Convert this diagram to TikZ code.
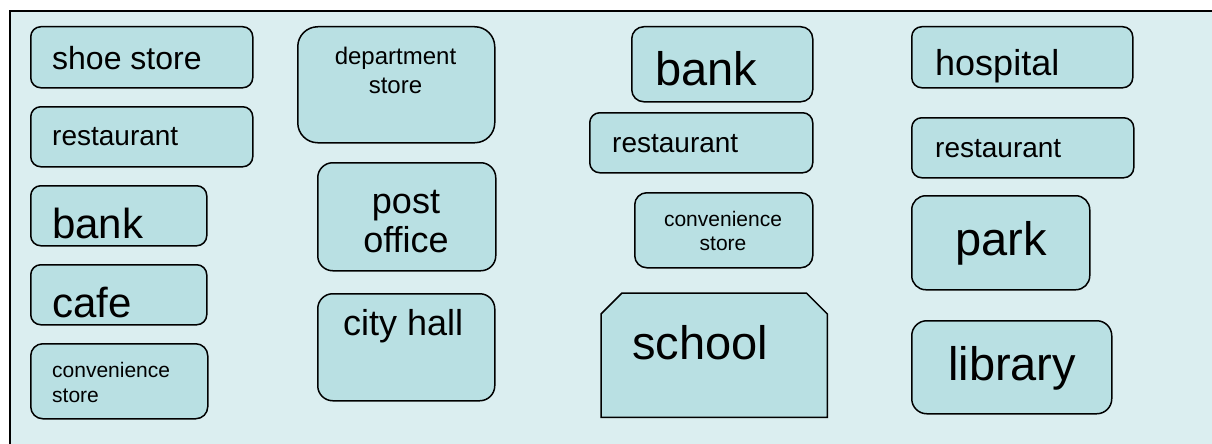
\documentclass[tikz,border=0pt]{standalone}
\usepackage{fontspec}
\setmainfont{Liberation Sans}
\usepackage{tikz}
\usetikzlibrary{positioning}

\definecolor{mapbg}{RGB}{219,238,240}
\definecolor{shopfill}{RGB}{185,224,227}

\tikzset{
    shop/.style={draw=black, fill=shopfill, line width=1.5pt, rounded corners=10pt,
        anchor=north west, inner sep=0pt},
    txt/.style={anchor=base west, inner sep=0pt, text=black},
    ctxt/.style={anchor=base, inner sep=0pt, text=black, align=center},
    fs/.style={font=\fontsize{#1}{#1}\selectfont},
}

\begin{document}
\begin{tikzpicture}[x=1pt, y=-1pt]
        \clip (0,0) rectangle (1212,444);
        % town map background
        \draw[line width=1.5pt, fill=mapbg] (10,11) rectangle (1230,460);

        % first street
        \node[shop, minimum width=222pt, minimum height=61pt] (shoe) at (30,26) {};
        \node[txt, fs=32] (shoeT) at (52,70) {shoe store};
        \node[shop, minimum width=222pt, minimum height=60pt] (restA) at (30,106) {};
        \node[txt, fs=28] (restAT) at (52,145) {restaurant};
        \node[shop, minimum width=176pt, minimum height=60pt] (bankA) at (30,185) {};
        \node[txt, fs=42] (bankAT) at (52,238) {bank};
        \node[shop, minimum width=176pt, minimum height=60pt] (cafe) at (30,264) {};
        \node[txt, fs=42] (cafeT) at (52,317) {cafe};
        \node[shop, rounded corners=12pt, minimum width=177pt, minimum height=75pt] (convA) at (30,343) {};
        \node[txt, align=left, font=\fontsize{21}{25}\selectfont] (convAT) at (52,402) {convenience\\store};

        % second street
        \node[shop, rounded corners=20pt, minimum width=197pt, minimum height=116pt] (dept) at (297,26) {};
        \node[ctxt, font=\fontsize{24}{29}\selectfont] (deptT) at (395.5,93) {department\\store};
        \node[shop, rounded corners=15pt, minimum width=178pt, minimum height=108pt] (post) at (317,162) {};
        \node[ctxt, font=\fontsize{36}{39}\selectfont] (postT) at (406,252) {post\\office};
        \node[shop, rounded corners=15pt, minimum width=177pt, minimum height=107pt] (city) at (317,293) {};
        \node[txt, fs=36] (cityT) at (343,335) {city hall};

        % third street
        \node[shop, rounded corners=12pt, minimum width=181pt, minimum height=75pt] (bankB) at (631,26) {};
        \node[txt, fs=47] (bankBT) at (655,85) {bank};
        \node[shop, minimum width=223pt, minimum height=60pt] (restB) at (589,112) {};
        \node[txt, fs=28] (restBT) at (612,152) {restaurant};
        \node[shop, rounded corners=12pt, minimum width=178pt, minimum height=75pt] (convB) at (634,192) {};
        \node[ctxt, font=\fontsize{21}{24}\selectfont] (convBT) at (723,250) {convenience\\store};
        % school: top corners cut off
        \node[anchor=north west, inner sep=0pt, minimum width=226pt, minimum height=124pt] (school) at (601,293) {};
        \draw[fill=shopfill, line width=1.5pt, line join=miter]
            ([yshift=-21pt]school.north west) -- ([xshift=21pt]school.north west)
            -- ([xshift=-21pt]school.north east) -- ([yshift=-21pt]school.north east)
            -- (school.south east) -- (school.south west) -- cycle;
        \node[txt, fs=47] (schoolT) at (632,359) {school};

        % fourth street
        \node[shop, minimum width=221pt, minimum height=61pt] (hosp) at (911,26) {};
        \node[txt, fs=36] (hospT) at (935,75) {hospital};
        \node[shop, minimum width=222pt, minimum height=60pt] (restC) at (911,117) {};
        \node[txt, fs=28] (restCT) at (935,157) {restaurant};
        \node[shop, rounded corners=14pt, minimum width=178pt, minimum height=94pt] (park) at (911,195) {};
        \node[txt, fs=47] (parkT) at (955,255) {park};
        \node[shop, rounded corners=15pt, minimum width=200pt, minimum height=93pt] (lib) at (911,320) {};
        \node[txt, fs=47] (libT) at (948,380) {library};
\end{tikzpicture}
\end{document}
